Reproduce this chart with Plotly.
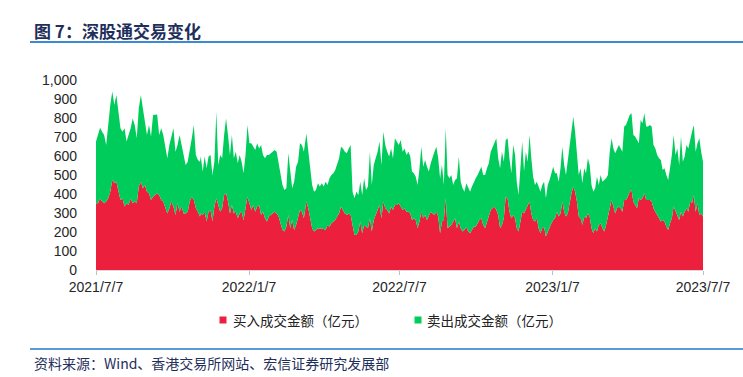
import pandas as pd
import plotly.graph_objects as go

# ---------------- data (亿元) ----------------
buy = [
    351,351,377,360,351,360,377,412,474,456,465,412,369,377,334,351,342,377,351,360,351,439,465,430,448,412,404,369,386,395,404,395,369,360,325,298,325,360,334,290,351,307,334,298,298,307,360,386,369,325,307,281,
    298,290,307,255,307,316,255,334,377,342,307,325,395,404,360,298,342,298,307,272,298,307,263,325,386,351,316,342,307,334,342,290,307,272,255,281,290,298,307,298,281,246,211,202,228,290,220,263,211,237,281,316,307,272,
    360,325,272,220,202,211,220,216,220,216,211,237,228,246,255,263,281,298,334,316,298,290,298,290,237,184,184,202,255,193,237,228,220,272,202,263,290,307,342,272,360,325,316,298,334,316,342,342,351,334,316,325,307,307,298,
    263,272,263,220,255,307,272,290,263,281,307,298,290,307,281,193,255,263,377,220,228,237,255,272,220,255,220,202,211,228,202,193,211,228,228,246,263,272,237,220,255,290,316,325,334,316,290,220,237,272,386,377,307,272,290,272,
    220,202,263,307,298,316,342,360,298,263,255,272,220,193,220,228,176,202,220,246,263,272,307,281,298,360,307,281,298,360,404,439,412,360,281,272,237,281,272,298,281,220,193,220,202,237,246,220,202,237,281,325,369,334,298,325,334,325,
    307,369,369,386,412,421,360,342,325,377,369,377,404,369,369,369,360,325,307,290,272,255,263,255,228,211,246,272,334,307,290,263,307,281,307,325,307,360,351,395,307,351,290,298,281,
]
sell = [
    325,360,372,368,360,298,404,456,465,412,456,421,377,351,412,325,369,369,447,403,342,412,456,421,333,299,359,333,430,421,415,316,377,351,333,290,333,351,412,333,307,404,324,307,255,263,263,307,394,280,272,289,
    299,228,290,280,290,289,245,236,456,211,298,263,316,394,351,307,369,290,316,290,307,263,246,280,377,316,351,307,325,333,298,368,298,316,350,324,324,325,325,325,289,272,237,219,202,324,280,167,254,307,289,351,351,351,
    359,315,263,228,210,210,236,223,236,223,254,211,255,254,254,263,272,290,315,324,325,324,342,368,175,193,228,193,210,202,246,193,219,351,246,290,298,316,334,281,368,333,307,299,306,272,351,334,307,350,307,315,298,316,299,
    255,237,228,228,280,342,272,289,281,237,255,299,333,342,307,290,298,185,369,280,255,263,193,202,263,342,245,228,201,228,228,219,228,237,255,254,263,272,263,280,280,272,307,324,342,377,298,315,386,298,298,316,281,237,368,333,
    245,193,272,369,220,307,228,351,290,228,193,193,219,219,228,237,201,246,254,272,281,237,202,184,237,289,246,219,281,316,342,368,316,263,219,263,219,254,237,290,272,228,219,210,289,211,254,245,272,246,219,298,324,306,316,307,324,315,
    316,386,394,404,404,404,351,360,359,290,421,395,421,386,386,394,395,333,333,315,316,324,263,280,272,263,289,333,377,298,350,290,395,289,290,333,333,333,377,368,316,316,403,325,289,
]
# observation periods: (first date, last date, number of observations)
period_starts = ["2021-07-07", "2021-11-10", "2022-03-17", "2022-07-22", "2022-11-25", "2023-04-01"]
period_ends   = ["2021-11-09", "2022-03-14", "2022-07-20", "2022-11-23", "2023-03-30", "2023-07-07"]
period_counts = [52, 54, 55, 56, 58, 45]

tick_dates = ["2021-07-07", "2022-01-07", "2022-07-07", "2023-01-07", "2023-07-07"]
tick_labels = ["2021/7/7", "2022/1/7", "2022/7/7", "2023/1/7", "2023/7/7"]
y_ticks = [0, 100, 200, 300, 400, 500, 600, 700, 800, 900, 1000]
series_names = ["买入成交金额（亿元）", "卖出成交金额（亿元）"]
title_text = "图 7：深股通交易变化"
source_text = "资料来源：Wind、香港交易所网站、宏信证券研究发展部"

RED = "#EC1F3C"
GREEN = "#00CC5C"
NAVY = "#1F2F5C"
BLUE_LINE = "#3C8AD0"
CJK = "Noto Sans CJK SC"
LATIN = "Liberation Sans, Arial, sans-serif"

dates = []
for s, e, n in zip(period_starts, period_ends, period_counts):
    dates += list(pd.date_range(s, e, periods=n))

fig = go.Figure()
for vals, name, col in [(buy, series_names[0], RED), (sell, series_names[1], GREEN)]:
    fig.add_trace(go.Scatter(
        x=dates, y=vals, name=name, mode="lines", stackgroup="one",
        line=dict(width=0, color=col), fillcolor=col, showlegend=False,
    ))

W, H = 743, 377
L, R, T, B = 96, 40, 80, 107
pw, ph = W - L - R, H - T - B


def px(x):
    return (x - L) / pw


def py(y):
    return (H - B - y) / ph


shapes = [
    dict(type="line", xref="paper", yref="paper", x0=px(30), x1=px(743), y0=py(42), y1=py(42),
         line=dict(color=BLUE_LINE, width=2)),
    dict(type="line", xref="paper", yref="paper", x0=px(30), x1=px(743), y0=py(349), y1=py(349),
         line=dict(color="#5B9BD5", width=2)),
]
annotations = [
    dict(text=title_text, xref="paper", yref="paper", x=px(32), y=py(30), xanchor="left", yanchor="middle",
         showarrow=False, font=dict(family=CJK, size=17, color=NAVY, weight="bold")),
    dict(text=source_text, xref="paper", yref="paper", x=px(32), y=py(363), xanchor="left", yanchor="middle",
         showarrow=False, font=dict(family=CJK, size=14, color=NAVY)),
]
# legend
leg = [(219.5, 231, series_names[0], RED), (414.5, 425, series_names[1], GREEN)]
for sx, tx, name, col in leg:
    shapes.append(dict(type="rect", xref="paper", yref="paper", x0=px(sx), x1=px(sx + 7),
                       y0=py(316.5), y1=py(323.5), fillcolor=col, line=dict(width=0)))
    annotations.append(dict(text=name, xref="paper", yref="paper", x=px(tx), y=py(320),
                            xanchor="left", yanchor="middle", showarrow=False,
                            font=dict(family=CJK, size=13.5, color="#222222")))

fig.update_layout(
    width=W, height=H, margin=dict(l=L, r=R, t=T, b=B, pad=0),
    paper_bgcolor="white", plot_bgcolor="white",
    showlegend=False, shapes=shapes, annotations=annotations,
    xaxis=dict(type="date", range=[tick_dates[0], tick_dates[-1]], tickvals=tick_dates, ticktext=tick_labels,
               showgrid=False, zeroline=False, showline=True, linecolor="#D9D9D9", linewidth=1,
               ticks="outside", ticklen=4, tickcolor="#BFBFBF",
               tickfont=dict(family=LATIN, size=14, color="#262626")),
    yaxis=dict(range=[0, 1000], tickvals=y_ticks, tickformat=",", showgrid=False, zeroline=False,
               showline=False, ticks="", ticklabelstandoff=18,
               tickfont=dict(family=LATIN, size=14, color="#262626")),
)

fig.write_html("out.html", config={"displayModeBar": False},
               post_script="document.body.style.margin='0';")
